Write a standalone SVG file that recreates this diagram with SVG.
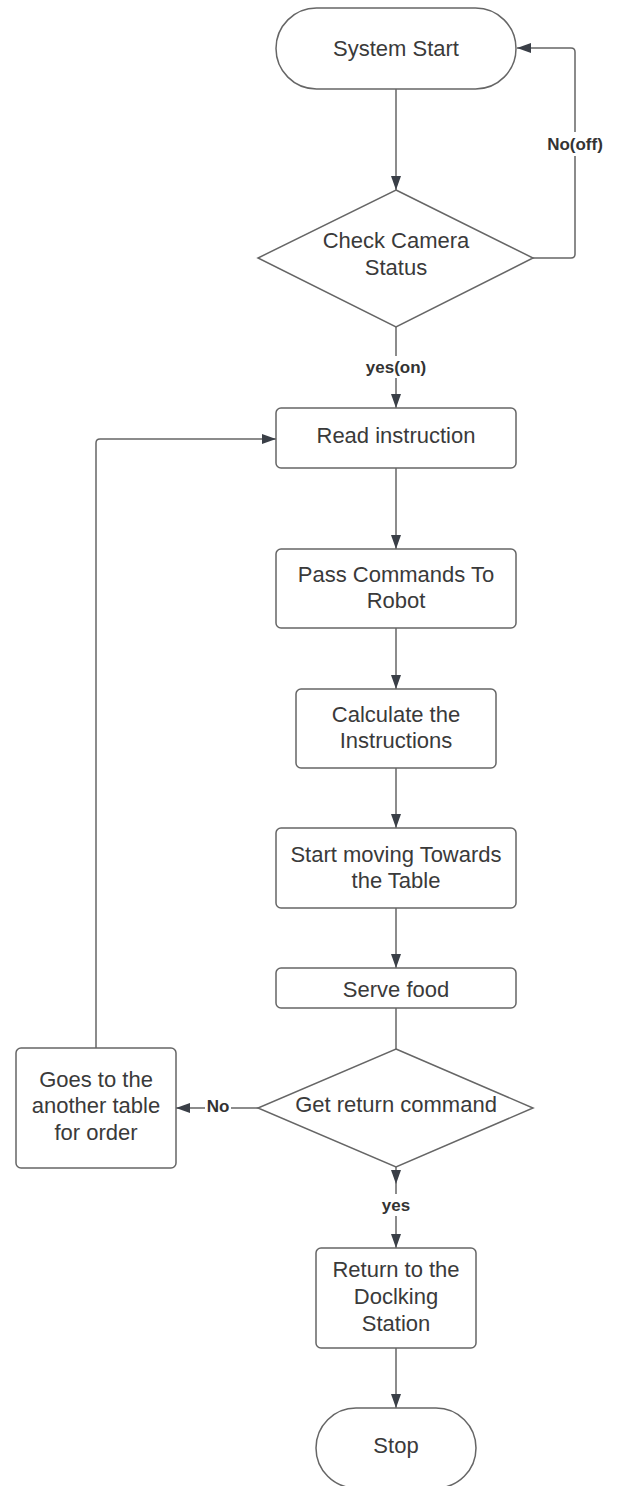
<svg xmlns="http://www.w3.org/2000/svg" width="617" height="1486" viewBox="0 0 617 1486">
<style>
.shape{fill:#fff;stroke:#666;stroke-width:1.5}
.txt{font-family:"Liberation Sans",Arial,sans-serif;font-size:22px;fill:#3a3a3a;text-anchor:middle}
.lbl{font-family:"Liberation Sans",Arial,sans-serif;font-size:17px;font-weight:bold;fill:#333;text-anchor:middle}
.edge{fill:none;stroke:#666;stroke-width:1.5}
.lblbg{fill:#fff}
</style>
<defs>
<marker id="arr" viewBox="0 0 14 10" refX="14" refY="5" markerWidth="14" markerHeight="10" markerUnits="userSpaceOnUse" orient="auto">
<path d="M0,0 L14,5 L0,10 Z" fill="#3a3f47"/>
</marker>
</defs>
<rect width="617" height="1486" fill="#fff"/>
<g id="connectors">
<path class="edge" d="M396,89 V190" marker-end="url(#arr)"/>
<path class="edge" d="M533,258 H571 Q575,258 575,254 V52 Q575,48 571,48 H517" marker-end="url(#arr)"/>
<path class="edge" d="M396,327 V408" marker-end="url(#arr)"/>
<path class="edge" d="M396,468 V549" marker-end="url(#arr)"/>
<path class="edge" d="M396,628 V689" marker-end="url(#arr)"/>
<path class="edge" d="M396,768 V828" marker-end="url(#arr)"/>
<path class="edge" d="M396,908 V968" marker-end="url(#arr)"/>
<path class="edge" d="M396,1008 V1049"/>
<path class="edge" d="M258,1108 H176" marker-end="url(#arr)"/>
<path class="edge" d="M96,1048 V443 Q96,439 100,439 H276" marker-end="url(#arr)"/>
<path class="edge" d="M396,1167 V1248" marker-end="url(#arr)"/>
<path d="M391,1170 L401,1170 L396,1184 Z" fill="#3a3f47"/>
<path class="edge" d="M396,1348 V1408" marker-end="url(#arr)"/>
<rect class="lblbg" x="544" y="132" width="62" height="24"/>
<text class="lbl" x="575" y="150">No(off)</text>
<rect class="lblbg" x="364" y="356" width="64" height="22"/>
<text class="lbl" x="396" y="373">yes(on)</text>
<rect class="lblbg" x="205" y="1098" width="26" height="20"/>
<text class="lbl" x="218" y="1112">No</text>
<rect class="lblbg" x="380" y="1194" width="32" height="22"/>
<text class="lbl" x="396" y="1211">yes</text>
</g>
<g id="start">
<rect class="shape" x="276" y="8" width="240" height="81" rx="40.5"/>
<text class="txt" x="396" y="56">System Start</text>
</g>
<g id="check-camera">
<path class="shape" d="M396,190 L533,258 L396,327 L258,258 Z"/>
<text class="txt" x="396" y="248">Check Camera</text>
<text class="txt" x="396" y="275">Status</text>
</g>
<g id="read-instruction">
<rect class="shape" x="276" y="408" width="240" height="60" rx="5"/>
<text class="txt" x="396" y="443">Read instruction</text>
</g>
<g id="pass-commands">
<rect class="shape" x="276" y="549" width="240" height="79" rx="5"/>
<text class="txt" x="396" y="582">Pass Commands To</text>
<text class="txt" x="396" y="608">Robot</text>
</g>
<g id="calculate">
<rect class="shape" x="296" y="689" width="200" height="79" rx="5"/>
<text class="txt" x="396" y="722">Calculate the</text>
<text class="txt" x="396" y="748">Instructions</text>
</g>
<g id="start-moving">
<rect class="shape" x="276" y="828" width="240" height="80" rx="5"/>
<text class="txt" x="396" y="862">Start moving Towards</text>
<text class="txt" x="396" y="888">the Table</text>
</g>
<g id="serve-food">
<rect class="shape" x="276" y="968" width="240" height="40" rx="5"/>
<text class="txt" x="396" y="997">Serve food</text>
</g>
<g id="get-return">
<path class="shape" d="M396,1049 L533,1108 L396,1167 L258,1108 Z"/>
<text class="txt" x="396" y="1112">Get return command</text>
</g>
<g id="another-table">
<rect class="shape" x="16" y="1048" width="160" height="120" rx="5"/>
<text class="txt" x="96" y="1087">Goes to the</text>
<text class="txt" x="96" y="1113">another table</text>
<text class="txt" x="96" y="1140">for order</text>
</g>
<g id="return-dock">
<rect class="shape" x="316" y="1248" width="160" height="100" rx="5"/>
<text class="txt" x="396" y="1277">Return to the</text>
<text class="txt" x="396" y="1304">Doclking</text>
<text class="txt" x="396" y="1331">Station</text>
</g>
<g id="stop">
<rect class="shape" x="316" y="1408" width="160" height="80" rx="40"/>
<text class="txt" x="396" y="1453">Stop</text>
</g>
</svg>
